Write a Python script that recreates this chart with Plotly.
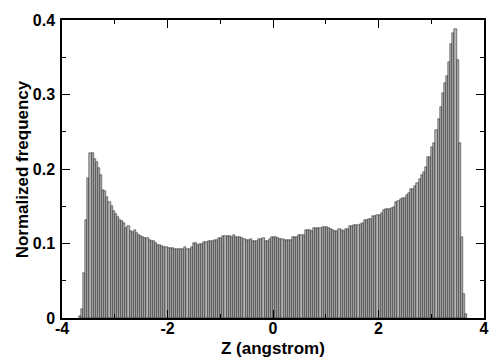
import numpy as np
import plotly.graph_objects as go

# Histogram bins (Z in angstrom)
bin_start = -3.66
bin_width = 0.04

freq = [
    # -3.66 .. -2.22
    0.003, 0.012, 0.061, 0.131, 0.188, 0.221, 0.221, 0.213, 0.209, 0.202,
    0.192, 0.172, 0.170, 0.163, 0.156, 0.150, 0.144, 0.140, 0.136, 0.132,
    0.130, 0.128, 0.121, 0.123, 0.117, 0.116, 0.118, 0.114, 0.112, 0.110,
    0.109, 0.108, 0.107, 0.105, 0.104, 0.104, 0.101,
    # -2.18 .. -0.22
    0.098, 0.0975, 0.0966, 0.0948, 0.0948, 0.0944, 0.0935, 0.0935, 0.093, 0.093,
    0.0922, 0.0922, 0.093, 0.095, 0.093, 0.093, 0.0957, 0.101, 0.101, 0.098,
    0.099, 0.099, 0.1015, 0.1024, 0.1033, 0.1033, 0.1038, 0.1047, 0.1047, 0.1078,
    0.1075, 0.1096, 0.110, 0.110, 0.110, 0.1092, 0.112, 0.1088, 0.1088, 0.1088,
    0.1075, 0.106, 0.1047, 0.1047, 0.1065, 0.1038, 0.1038, 0.103, 0.1056, 0.1056,
    # -0.18 .. 1.86
    0.107, 0.1038, 0.1038, 0.1056, 0.1083, 0.1083, 0.1083, 0.107, 0.1056, 0.1056,
    0.1047, 0.1047, 0.1047, 0.1047, 0.1083, 0.1083, 0.1083, 0.1109, 0.1109, 0.1115,
    0.1181, 0.1181, 0.1181, 0.1168, 0.1212, 0.1212, 0.1212, 0.1212, 0.1226, 0.1226,
    0.1226, 0.1212, 0.1190, 0.1180, 0.1172, 0.1172, 0.1190, 0.1180, 0.1163, 0.1194,
    0.1194, 0.1235, 0.1235, 0.1244, 0.1244, 0.1244, 0.1260, 0.1280, 0.1315, 0.1315,
    0.1324, 0.1324,
    # 1.90 .. 3.46
    0.1369, 0.1369, 0.1382, 0.1382, 0.1414, 0.1450, 0.1468, 0.1468, 0.1459, 0.1481,
    0.1494, 0.1562, 0.1570, 0.1593, 0.1606, 0.1606, 0.1651, 0.1682, 0.1727, 0.1727,
    0.1772, 0.1808, 0.1861, 0.1920, 0.1964, 0.2031, 0.2157, 0.2157, 0.2291, 0.2345,
    0.2523, 0.2667, 0.2828, 0.3024, 0.3150, 0.3248, 0.3441, 0.3678, 0.3821, 0.3875,
    # 3.50 .. 3.66
    0.346, 0.235, 0.109, 0.032, 0.006,
]

x_tickvals = [-4, -2, 0, 2, 4]
x_ticktext = ["-4", "-2", "0", "2", "4"]
y_tickvals = [0, 0.1, 0.2, 0.3, 0.4]
y_ticktext = ["0", "0.1", "0.2", "0.3", "0.4"]
x_title = "Z (angstrom)"
y_title = "Normalized frequency"

centers = bin_start + bin_width * np.arange(len(freq))

font_family = "Liberation Sans, Arial, sans-serif"

fig = go.Figure(
    go.Bar(
        x=centers,
        y=freq,
        width=bin_width,
        marker=dict(color="#b4b4b4", line=dict(color="black", width=0.45)),
    )
)

axis_common = dict(
    showgrid=False,
    zeroline=False,
    showline=True,
    linecolor="black",
    linewidth=1.5,
    mirror="ticks",
    ticks="inside",
    ticklen=8,
    tickwidth=1,
    tickcolor="black",
    tickfont=dict(family=font_family, size=16, color="black"),
)

fig.update_layout(
    width=494,
    height=360,
    margin=dict(l=62, r=5, t=20, b=42),
    paper_bgcolor="white",
    plot_bgcolor="white",
    showlegend=False,
    bargap=0,
    xaxis=dict(
        range=[-4, 4],
        tickvals=x_tickvals,
        ticktext=["<b>%s</b>" % t for t in x_ticktext],
        minor=dict(dtick=1, ticks="inside", ticklen=4, tickwidth=1, tickcolor="black"),
        ticklabelstandoff=-5,
        **axis_common,
    ),
    yaxis=dict(
        range=[0, 0.4],
        tickvals=y_tickvals,
        ticktext=["<b>%s</b>" % t for t in y_ticktext],
        minor=dict(dtick=0.05, ticks="inside", ticklen=4, tickwidth=1, tickcolor="black"),
        ticklabelstandoff=2,
        **axis_common,
    ),
    annotations=[
        dict(text="<b>%s</b>" % x_title, xref="paper", yref="paper",
             x=0.5, y=-0.104, xanchor="center", yanchor="middle", showarrow=False,
             font=dict(family=font_family, size=17, color="black")),
        dict(text="<b>%s</b>" % y_title, xref="paper", yref="paper",
             x=-0.094, y=0.5, xanchor="center", yanchor="middle", showarrow=False,
             textangle=-90,
             font=dict(family=font_family, size=17, color="black")),
    ],
)

fig.write_html("out.html")
